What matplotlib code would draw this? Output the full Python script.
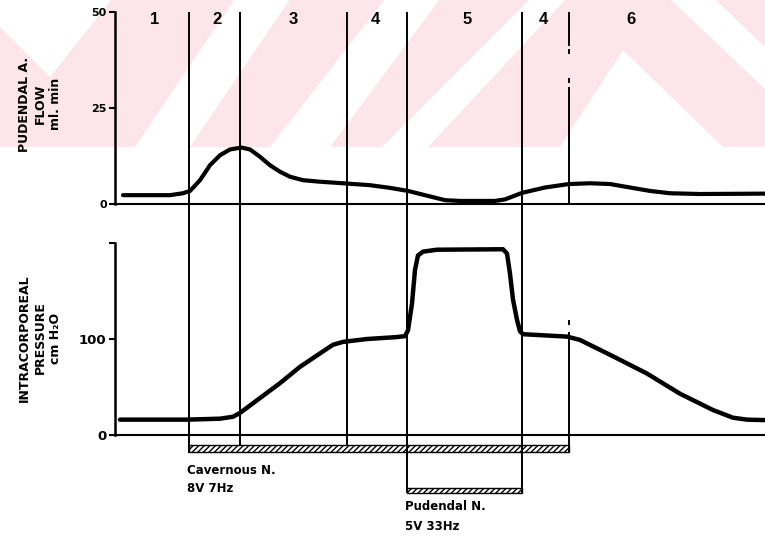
import matplotlib
matplotlib.use('Agg')
import matplotlib.pyplot as plt
from matplotlib.patches import Rectangle, Polygon
from matplotlib.lines import Line2D
from matplotlib.transforms import blended_transform_factory

W, H = 765, 540

# pudendal artery flow (ml/min) against time (arbitrary units)
flow_t = [1.6, 11, 13.6, 15, 17, 19, 21, 23, 25.3, 27, 29, 31, 33, 35, 37.6, 41, 45.6,
          51, 55, 58.6, 62, 66, 69, 76, 78, 81.4, 86, 90.8, 95, 99, 103, 107, 111, 117, 130]
flow_v = [2.3, 2.3, 2.8, 3.4, 6.2, 10.1, 12.7, 14.2, 14.7, 14.2, 12.3, 10.1, 8.4, 7.1, 6.2, 5.8, 5.4,
          4.9, 4.2, 3.4, 2.3, 1.0, 0.8, 0.8, 1.2, 2.9, 4.3, 5.2, 5.4, 5.2, 4.3, 3.4, 2.8, 2.6, 2.7]

# intracorporeal pressure (cm H2O)
press_t = [1, 14.4, 21, 23.6, 25, 29, 33, 37, 41, 43.6, 45.6, 50.4, 56.4, 58, 58.6, 59.4, 60, 60.6,
           61.6, 64.4, 77.6, 78.4, 79, 79.6, 80.4, 81, 81.6, 90.4, 93, 99.6, 106.4, 113, 119.6,
           123.6, 126.4, 130]
press_v = [16, 16, 17, 19, 23, 38.5, 54, 71, 85, 94, 97, 100, 102, 103, 109, 137, 172, 187,
           191, 193, 193.5, 189, 168, 141, 120, 108, 105, 102.5, 99, 82, 64, 43, 26,
           18, 16, 15.5]

phase_edges = [14.8, 24.9, 46.3, 58.4, 81.3, 90.8]
phase_names = ['1', '2', '3', '4', '5', '4', '6']
phase_name_t = [8, 20.4, 35.6, 52, 70.4, 85.6, 103.2]
cavernous = (14.8, 90.8)
pudendal = (58.4, 81.3)


def fy(py):
    return 1 - py / H


fig = plt.figure(figsize=(7.65, 5.4), dpi=100)

# faint pink watermark in the scan
pink = '#fde6eb'
fig.add_artist(Rectangle((0, fy(147)), 1, 147 / H, transform=fig.transFigure,
                         color=pink, lw=0, zorder=-10))
white_shapes = [
    [(0, -1), (112, -1), (50, 77), (0, 27)],
    [(135, 147), (190, 147), (290, -1), (235, -1)],
    [(270, 147), (330, 147), (440, -1), (385, -1)],
    [(382, 147), (428, 147), (566, -1), (530, -1)],
    [(560, 147), (723, 147), (623, 50)],
    [(670, -1), (715, -1), (766, 48), (766, 90)],
]
for pts in white_shapes:
    fig.add_artist(Polygon([(x / W, fy(y)) for x, y in pts], closed=True,
                           transform=fig.transFigure, color='white', lw=0, zorder=-9))

ax1 = fig.add_axes([115 / W, fy(204), 650 / W, 192 / H])
ax2 = fig.add_axes([115 / W, fy(435), 650 / W, 192 / H])

for ax in (ax1, ax2):
    ax.set_facecolor('none')
    ax.spines['top'].set_visible(False)
    ax.spines['right'].set_visible(False)
    ax.spines['left'].set_linewidth(1.8)
    ax.spines['bottom'].set_linewidth(1.5)
    ax.set_xlim(0, 130)
    ax.set_xticks([])
    ax.tick_params(axis='y', length=4, width=1.5, pad=2)

ax1.plot(flow_t, flow_v, color='black', lw=3, solid_joinstyle='round', solid_capstyle='round')
ax1.set_ylim(0, 50)
ax1.set_yticks([0, 25, 50])
ax1.set_yticklabels(['0', '25', '50'], fontsize=8, fontweight='bold')

ax2.plot(press_t, press_v, color='black', lw=3.2, solid_joinstyle='round', solid_capstyle='round')
ax2.set_ylim(0, 200)
ax2.set_yticks([0, 100, 200])
ax2.set_yticklabels(['0', '100', ''], fontsize=9.5, fontweight='bold')

fig.text(40 / W, fy(104), 'PUDENDAL A.\nFLOW\nml. min', rotation=90, ha='center', va='center',
         multialignment='center', fontsize=9, fontweight='bold', linespacing=1.25)
fig.text(40 / W, fy(338), 'INTRACORPOREAL\nPRESSURE\ncm H₂O', rotation=90, ha='center', va='center',
         multialignment='center', fontsize=9, fontweight='bold', linespacing=1.25)

trans = blended_transform_factory(ax1.transData, fig.transFigure)

# phase boundary lines running through both panels
bottoms = [452, 445, 445, 492, 492]
for x, b in zip(phase_edges[:5], bottoms):
    fig.add_artist(Line2D([x, x], [fy(13), fy(b)], transform=trans, color='black', lw=1.4))
for a, b in [(13, 45), (50, 53), (79, 82), (88, 204), (321, 324), (333, 452)]:
    fig.add_artist(Line2D([phase_edges[5]] * 2, [fy(a), fy(b)], transform=trans,
                          color='black', lw=1.4))

for name, x in zip(phase_names, phase_name_t):
    fig.text(x, fy(20), name, transform=trans, ha='center', va='center', fontsize=12,
             fontweight='bold', family='Liberation Sans')

# stimulation bars
plt.rcParams['hatch.linewidth'] = 1.0
fig.add_artist(Rectangle((cavernous[0], fy(452)), cavernous[1] - cavernous[0], 7 / H,
                         transform=trans, fill=False, hatch='//////', lw=1.0, color='black'))
fig.add_artist(Rectangle((pudendal[0], fy(493)), pudendal[1] - pudendal[0], 5 / H,
                         transform=trans, fill=False, hatch='//////', lw=1.0, color='black'))

fig.text(cavernous[0] - 0.4, fy(470), 'Cavernous N.', transform=trans, ha='left', va='center',
         fontsize=8.5, fontweight='bold')
fig.text(cavernous[0] - 0.4, fy(489), '8V 7Hz', transform=trans, ha='left', va='center',
         fontsize=8.5, fontweight='bold')
fig.text(pudendal[0] - 0.4, fy(507), 'Pudendal N.', transform=trans, ha='left', va='center',
         fontsize=8.5, fontweight='bold')
fig.text(pudendal[0] - 0.4, fy(526), '5V 33Hz', transform=trans, ha='left', va='center',
         fontsize=8.5, fontweight='bold')

fig.savefig('out.png', dpi=100)
